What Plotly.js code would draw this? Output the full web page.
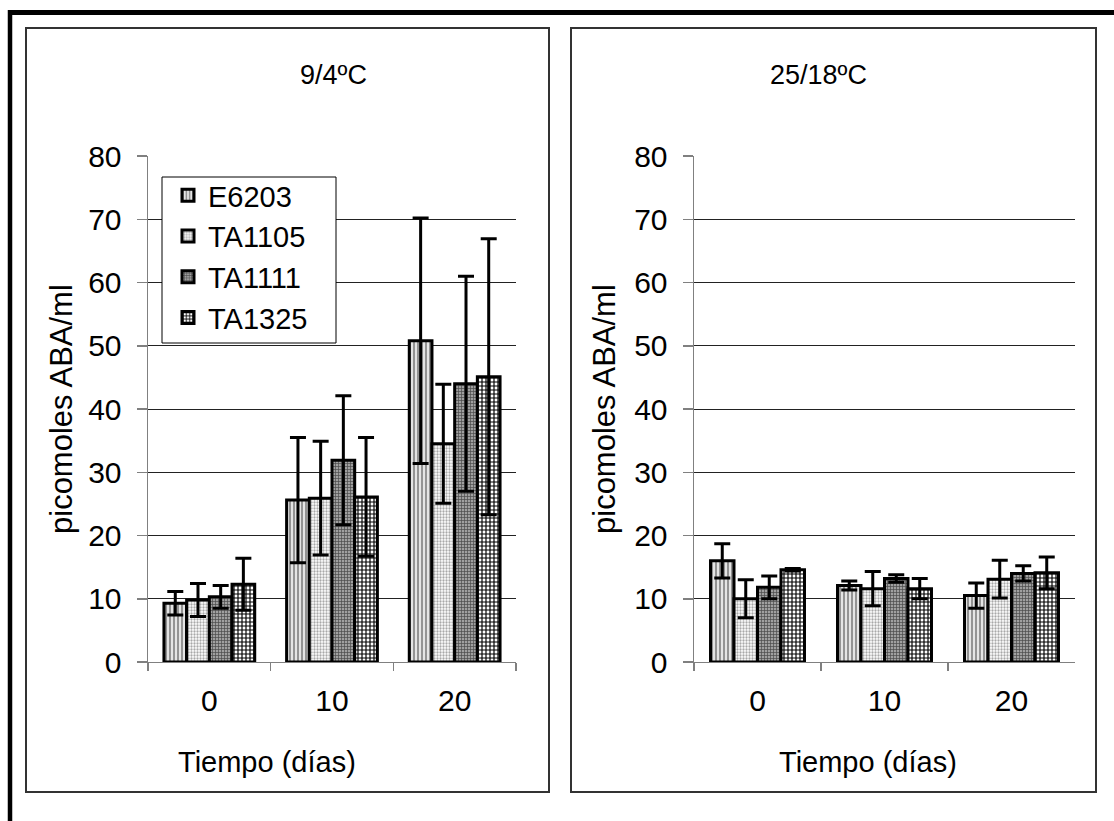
<!DOCTYPE html>
<html>
<head>
<meta charset="utf-8">
<script src="https://cdn.plot.ly/plotly-3.0.1.min.js"></script>
<style>html,body{margin:0;padding:0;background:#fff;}#chart{width:1114px;height:821px;}</style>
</head>
<body>
<div id="chart"></div>
<script>
// ---- data ----
const days = ['0', '10', '20'];
const seriesNames = ['E6203', 'TA1105', 'TA1111', 'TA1325'];

// 9/4ºC panel
const cold_E6203 = [9.3, 25.6, 50.8];
const cold_TA1105 = [9.8, 25.9, 34.5];
const cold_TA1111 = [10.3, 31.9, 44.0];
const cold_TA1325 = [12.3, 26.1, 45.1];
const coldErr_E6203 = [1.85, 9.9, 19.4];
const coldErr_TA1105 = [2.6, 9.0, 9.4];
const coldErr_TA1111 = [1.8, 10.2, 17.0];
const coldErr_TA1325 = [4.1, 9.4, 21.8];

// 25/18ºC panel
const warm_E6203 = [16.0, 12.1, 10.5];
const warm_TA1105 = [10.0, 11.6, 13.1];
const warm_TA1111 = [11.8, 13.2, 14.0];
const warm_TA1325 = [14.6, 11.6, 14.1];
const warmErr_E6203 = [2.7, 0.7, 2.0];
const warmErr_TA1105 = [3.0, 2.7, 3.0];
const warmErr_TA1111 = [1.8, 0.6, 1.2];
const warmErr_TA1325 = [0.2, 1.6, 2.5];

const panelTitles = ['9/4ºC', '25/18ºC'];
const xTitle = 'Tiempo (días)';
const yTitle = 'picomoles ABA/ml';

// ---- styling ----
const W = 1114, H = 821;
const px = v => v / W;
const py = v => 1 - v / H;
const FONT = 'Liberation Sans, Arial, sans-serif';

const patterns = [
  {shape: '|', bgcolor: '#e4e4e4', fgcolor: '#8a8a8a', size: 4, solidity: 0.45},
  {shape: '.', bgcolor: '#ffffff', fgcolor: '#a8a8a8', size: 3, solidity: 0.45},
  {shape: '+', bgcolor: '#a0a0a0', fgcolor: '#4a4a4a', size: 3, solidity: 0.4},
  {shape: '+', bgcolor: '#ffffff', fgcolor: '#000000', size: 4, solidity: 0.5}
];

const coldVals = [cold_E6203, cold_TA1105, cold_TA1111, cold_TA1325];
const coldErrs = [coldErr_E6203, coldErr_TA1105, coldErr_TA1111, coldErr_TA1325];
const warmVals = [warm_E6203, warm_TA1105, warm_TA1111, warm_TA1325];
const warmErrs = [warmErr_E6203, warmErr_TA1105, warmErr_TA1111, warmErr_TA1325];

const traces = [];
function addPanel(vals, errs, xa, ya, showLeg) {
  seriesNames.forEach((name, i) => {
    traces.push({
      type: 'bar', name: name, x: days, y: vals[i],
      xaxis: xa, yaxis: ya,
      legendgroup: name, showlegend: showLeg,
      marker: {color: patterns[i].bgcolor, pattern: patterns[i], line: {color: '#000', width: 3}},
      error_y: {type: 'data', array: errs[i], visible: true, color: '#000', thickness: 3, width: 8}
    });
  });
}
addPanel(coldVals, coldErrs, 'x', 'y', true);
addPanel(warmVals, warmErrs, 'x2', 'y2', false);

const tickFont = {family: FONT, size: 30, color: '#000'};
function xax(domain, anchor) {
  return {
    domain: domain, anchor: anchor, type: 'category',
    showline: true, linecolor: '#808080', linewidth: 1,
    ticks: 'outside', tickson: 'boundaries', ticklen: 8, tickcolor: '#808080', tickwidth: 1.5,
    ticklabelstandoff: 12,
    tickfont: tickFont, showgrid: false, zeroline: false, fixedrange: true
  };
}
function yax(anchor) {
  return {
    domain: [py(662), py(156)], anchor: anchor, range: [0, 80], dtick: 10,
    showline: true, linecolor: '#808080', linewidth: 1.5,
    ticks: 'outside', ticklen: 10, tickcolor: '#808080', tickwidth: 1.5,
    ticklabelstandoff: 9,
    showgrid: true, gridcolor: '#222', gridwidth: 1,
    zeroline: false, tickfont: tickFont, fixedrange: true
  };
}

const annFont = {family: FONT, size: 29, color: '#000'};
const yTitleFont = {family: FONT, size: 31, color: '#000'};
function ann(text, x, y, font, angle) {
  return {text: text, x: px(x), y: py(y), xref: 'paper', yref: 'paper', xanchor: 'center', yanchor: 'middle',
          showarrow: false, textangle: angle || 0, font: font};
}
const layout = {
  width: W, height: H,
  margin: {l: 0, r: 0, t: 0, b: 0},
  paper_bgcolor: '#fff', plot_bgcolor: 'rgba(0,0,0,0)',
  barmode: 'group', bargap: 0.26, bargroupgap: 0,
  font: {family: FONT, color: '#000'},
  xaxis: xax([px(148), px(516)], 'y'),
  yaxis: yax('x'),
  xaxis2: xax([px(694), px(1075)], 'y2'),
  yaxis2: yax('x2'),
  showlegend: true,
  legend: {
    x: px(168), y: py(170), xanchor: 'left', yanchor: 'top',
    bgcolor: 'rgba(0,0,0,0)', borderwidth: 0,
    font: {family: FONT, size: 29, color: '#000'},
    traceorder: 'grouped', tracegroupgap: 0, itemwidth: 30
  },
  annotations: [
    ann(panelTitles[0], 333, 75, {family: FONT, size: 27, color: '#000'}),
    ann(panelTitles[1], 818, 75, {family: FONT, size: 27, color: '#000'}),
    ann(xTitle, 267, 762, annFont),
    ann(xTitle, 868, 762, annFont),
    ann(yTitle, 62, 409, yTitleFont, -90),
    ann(yTitle, 605, 409, yTitleFont, -90)
  ],
  shapes: [
    {type: 'line', xref: 'paper', yref: 'paper', x0: px(8), x1: 1, y0: py(12.5), y1: py(12.5), line: {color: '#000', width: 5}},
    {type: 'line', xref: 'paper', yref: 'paper', x0: px(10), x1: px(10), y0: py(10), y1: 0, line: {color: '#000', width: 4.5}},
    {type: 'rect', xref: 'paper', yref: 'paper', x0: px(26), x1: px(549), y0: py(792), y1: py(28), line: {color: '#333', width: 2}, layer: 'below'},
    {type: 'rect', xref: 'paper', yref: 'paper', x0: px(571), x1: px(1096), y0: py(792), y1: py(28), line: {color: '#333', width: 2}, layer: 'below'},
    // legend frame
    {type: 'rect', xref: 'paper', yref: 'paper', x0: px(162), x1: px(336), y0: py(343), y1: py(177), line: {color: '#000', width: 1}, fillcolor: '#fff', layer: 'above'}
  ]
};

Plotly.newPlot('chart', traces, layout, {displayModeBar: false, staticPlot: true});
</script>
</body>
</html>
